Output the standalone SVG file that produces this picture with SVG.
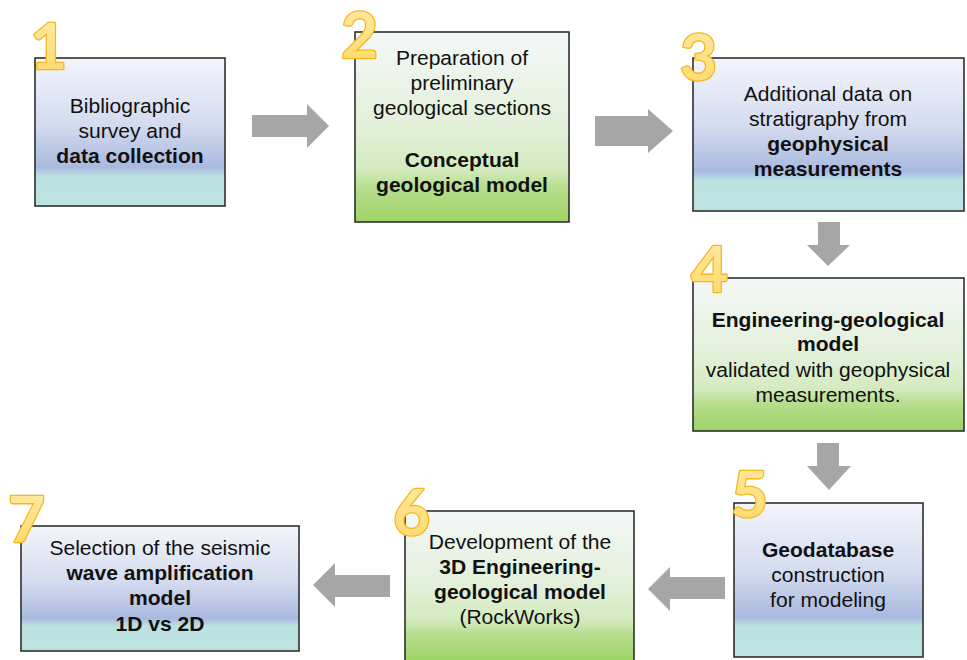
<svg xmlns="http://www.w3.org/2000/svg" width="967" height="660" viewBox="0 0 967 660">
<defs>
<linearGradient id="gb" x1="0" y1="0" x2="0" y2="1">
<stop offset="0" stop-color="#F4F5FB"/>
<stop offset="0.45" stop-color="#D3DBEF"/>
<stop offset="0.74" stop-color="#A9B9DF"/>
<stop offset="0.8" stop-color="#BBE1E1"/>
<stop offset="1" stop-color="#BCE2E2"/>
</linearGradient>
<linearGradient id="gg" x1="0" y1="0" x2="0" y2="1">
<stop offset="0" stop-color="#F4F7F8"/>
<stop offset="0.5" stop-color="#E2F0D9"/>
<stop offset="0.72" stop-color="#D4EBC0"/>
<stop offset="0.82" stop-color="#B7DD8E"/>
<stop offset="1" stop-color="#9CD464"/>
</linearGradient>
<linearGradient id="gd" x1="0" y1="0" x2="0" y2="1">
<stop offset="0" stop-color="#FFEBAA"/>
<stop offset="1" stop-color="#FFD966"/>
</linearGradient>
</defs>
<style>
.box{stroke:#2F2F2F;stroke-width:1.6}
.blue{fill:url(#gb)}
.green{fill:url(#gg)}
.t{font-family:"Liberation Sans",Arial,sans-serif;font-size:19.5px;fill:#111;text-anchor:middle}
.b{font-weight:bold}
.num{font-family:Lato,"Open Sans",sans-serif;font-weight:bold;font-size:64px;fill:url(#gd);stroke:#F4B81E;stroke-width:2.6;paint-order:stroke;stroke-linejoin:round}
.arr{fill:#A6A6A6}
</style>
<rect width="967" height="660" fill="#FFFFFF"/>
<g id="connectors">
<polygon class="arr" points="252,115 307,115 307,104 329,126 307,148 307,137 252,137"/>
<polygon class="arr" points="595,116 648,116 648,109 673,131 648,153 648,146 595,146"/>
<polygon class="arr" points="818,222 840,222 840,245 850,245 828,266 807,245 818,245"/>
<polygon class="arr" points="817,443 839,443 839,466 851,466 829,490 807,466 817,466"/>
<polygon class="arr" points="725,577 670,577 670,567 648,589 670,611 670,599 725,599"/>
<polygon class="arr" points="390,575 335,575 335,563 313,585 335,607 335,597 390,597"/>
</g>
<g id="node1">
<rect class="box blue" x="35" y="58" width="190" height="148"/>
<g transform="translate(130,0) scale(1.08,1)">
<text class="t" x="0" y="113">Bibliographic</text>
<text class="t" x="0" y="138">survey and</text>
<text class="t b" x="0" y="163">data collection</text>
</g>
<text class="num" x="30" y="69">1</text>
</g>
<g id="node2">
<rect class="box green" x="355" y="32" width="214" height="190"/>
<g transform="translate(462,0) scale(1.08,1)">
<text class="t" x="0" y="65">Preparation of</text>
<text class="t" x="0" y="90">preliminary</text>
<text class="t" x="0" y="115">geological sections</text>
<text class="t b" x="0" y="167">Conceptual</text>
<text class="t b" x="0" y="192">geological model</text>
</g>
<text class="num" x="341" y="58">2</text>
</g>
<g id="node3">
<rect class="box blue" x="693" y="58" width="271" height="153"/>
<g transform="translate(828,0) scale(1.08,1)">
<text class="t" x="0" y="101">Additional data on</text>
<text class="t" x="0" y="126">stratigraphy from</text>
<text class="t b" x="0" y="151">geophysical</text>
<text class="t b" x="0" y="176">measurements</text>
</g>
<text class="num" x="680" y="80">3</text>
</g>
<g id="node4">
<rect class="box green" x="693" y="278" width="271" height="153"/>
<g transform="translate(828,0) scale(1.08,1)">
<text class="t b" x="0" y="327">Engineering-geological</text>
<text class="t b" x="0" y="351">model</text>
<text class="t" x="0" y="377">validated with geophysical</text>
<text class="t" x="0" y="402">measurements.</text>
</g>
<text class="num" x="691" y="292">4</text>
</g>
<g id="node5">
<rect class="box blue" x="734" y="503" width="189" height="154"/>
<g transform="translate(828,0) scale(1.08,1)">
<text class="t b" x="0" y="557">Geodatabase</text>
<text class="t" x="0" y="582">construction</text>
<text class="t" x="0" y="607">for modeling</text>
</g>
<text class="num" x="731" y="517">5</text>
</g>
<g id="node6">
<rect class="box green" x="405" y="511" width="229" height="150"/>
<g transform="translate(520,0) scale(1.08,1)">
<text class="t" x="0" y="549">Development of the</text>
<text class="t b" x="0" y="574">3D Engineering-</text>
<text class="t b" x="0" y="599">geological model</text>
<text class="t" x="0" y="624">(RockWorks)</text>
</g>
<text class="num" x="393" y="535">6</text>
</g>
<g id="node7">
<rect class="box blue" x="21" y="526" width="278" height="125"/>
<g transform="translate(160,0) scale(1.08,1)">
<text class="t" x="0" y="555">Selection of the seismic</text>
<text class="t b" x="0" y="580">wave amplification</text>
<text class="t b" x="0" y="605">model</text>
<text class="t b" x="0" y="631">1D vs 2D</text>
</g>
<text class="num" x="8" y="542">7</text>
</g>
</svg>
